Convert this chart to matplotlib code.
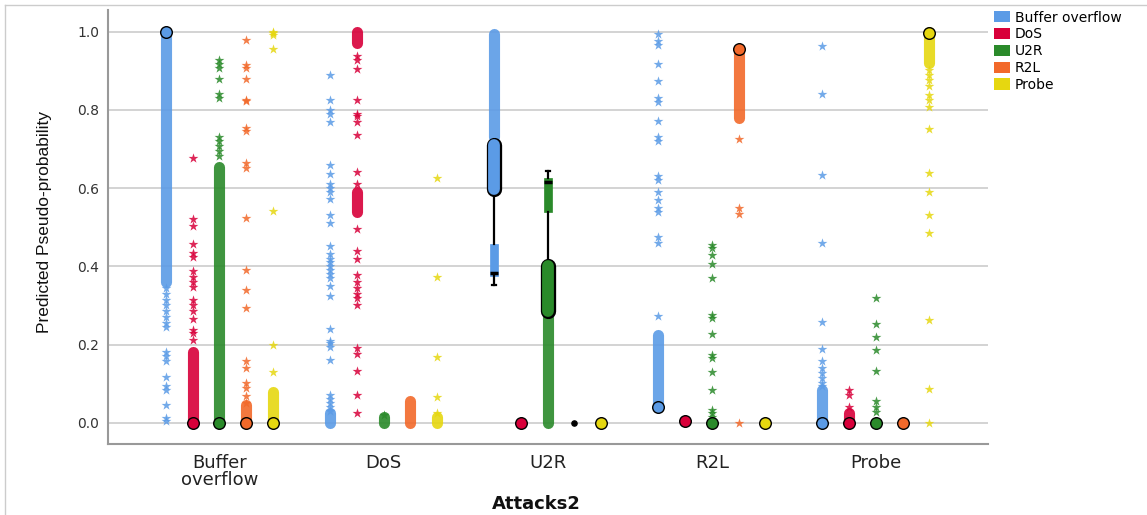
import numpy as np
import matplotlib.pyplot as plt
from matplotlib.patches import Patch
from matplotlib.lines import Line2D

categories = ["Buffer\noverflow", "DoS", "U2R", "R2L", "Probe"]
series = ["Buffer overflow", "DoS", "U2R", "R2L", "Probe"]
colors = ["#5b9be6", "#d8003a", "#2a8a2a", "#f2692a", "#e6d710"]

# single extreme values (stars), one list per series, per category
stars_bo = [
    [0.345, 0.33, 0.315, 0.30, 0.285, 0.27, 0.255, 0.245, 0.182, 0.17, 0.157,
     0.118, 0.093, 0.085, 0.046, 0.012, 0.005],
    [0.677, 0.521, 0.502, 0.457, 0.434, 0.425, 0.387, 0.374, 0.361, 0.348,
     0.315, 0.302, 0.285, 0.265, 0.238, 0.229, 0.212],
    [0.928, 0.917, 0.906, 0.88, 0.841, 0.83, 0.732, 0.72, 0.707, 0.694, 0.682],
    [0.978, 0.916, 0.907, 0.88, 0.826, 0.822, 0.754, 0.745, 0.664, 0.651,
     0.524, 0.39, 0.34, 0.293, 0.157, 0.139, 0.101, 0.089, 0.068, 0.05],
    [1.0, 0.996, 0.992, 0.955, 0.541, 0.2, 0.131],
]
stars_dos = [
    [0.89, 0.826, 0.80, 0.79, 0.77, 0.66, 0.637, 0.61, 0.60, 0.59, 0.573,
     0.532, 0.512, 0.453, 0.432, 0.42, 0.41, 0.40, 0.39, 0.38, 0.37, 0.35,
     0.323, 0.24, 0.21, 0.205, 0.193, 0.161, 0.07, 0.06, 0.05, 0.04, 0.03],
    [0.937, 0.927, 0.905, 0.826, 0.79, 0.785, 0.77, 0.735, 0.642, 0.61,
     0.496, 0.438, 0.42, 0.378, 0.36, 0.345, 0.33, 0.32, 0.30, 0.19, 0.175,
     0.132, 0.07, 0.026],
    [0.02],
    [],
    [0.627, 0.374, 0.167, 0.067, 0.025],
]
stars_u2r = [[], [], [], [], []]
stars_r2l = [
    [0.995, 0.975, 0.965, 0.918, 0.873, 0.83, 0.82, 0.772, 0.73, 0.72, 0.63,
     0.62, 0.59, 0.57, 0.55, 0.54, 0.474, 0.46, 0.274],
    [],
    [0.455, 0.448, 0.43, 0.406, 0.37, 0.276, 0.268, 0.228, 0.174, 0.165,
     0.129, 0.084, 0.033, 0.025, 0.016],
    [0.726, 0.55, 0.535, 0.0],
    [],
]
stars_probe = [
    [0.964, 0.841, 0.633, 0.46, 0.259, 0.188, 0.157, 0.14, 0.127, 0.115,
     0.102, 0.093],
    [0.084, 0.071, 0.04],
    [0.319, 0.253, 0.219, 0.185, 0.133, 0.055, 0.041, 0.028],
    [],
    [0.903, 0.89, 0.877, 0.86, 0.839, 0.826, 0.807, 0.75, 0.638, 0.589,
     0.532, 0.485, 0.262, 0.087, 0.0],
]
stars = [stars_bo, stars_dos, stars_u2r, stars_r2l, stars_probe]

# dense runs of stars (lo, hi)
runs = [
    [(0.36, 1.0), (0.0, 0.18), (0.0, 0.655), (0.0, 0.045), (0.0, 0.08)],
    [(0.0, 0.025), (0.97, 1.0), (0.0, 0.015), (0.0, 0.055), (0.0, 0.015)],
    [(0.73, 0.995), None, (0.0, 0.27), None, None],
    [(0.04, 0.225), None, None, (0.78, 0.955), None],
    [(0.0, 0.085), (0.0, 0.025), None, None, (0.92, 1.0)],
]
runs_red_dos_mid = (0.54, 0.59)

# collapsed boxes (q1 = median = q3), None = no box drawn
flat_box = [
    [1.0, 0.0, 0.0, 0.0, 0.0],
    [None, None, None, None, None],
    [None, 0.0, None, None, 0.0],
    [0.04, 0.005, 0.0, 0.956, 0.0],
    [0.0, 0.0, 0.0, 0.0, 0.996],
]
u2r_orange_median = 0.0

# the two real boxes (U2R category): whislo, q1, med, q3, whishi
u2r_bo_box = [0.353, 0.375, 0.383, 0.458, 0.598]
u2r_u2r_box = [0.40, 0.538, 0.615, 0.626, 0.645]
# runs of outlier circles (lo, hi)
u2r_bo_circles = (0.598, 0.71)
u2r_u2r_circles = (0.285, 0.40)

off = 0.163

def xpos(i, j):
    return i + (j - 2) * off

fig = plt.figure(figsize=(11.47, 5.15), dpi=100)
ax = fig.add_axes([0.094, 0.138, 0.767, 0.843])

ax.set_xlim(-0.68, 4.68)
ax.set_ylim(-0.054, 1.056)
ax.set_yticks(np.arange(0, 1.01, 0.2))
ax.set_yticklabels([f"{v:.1f}" for v in np.arange(0, 1.01, 0.2)])
ax.set_xticks(range(len(categories)))
ax.set_xticklabels(categories, fontsize=13, color="#222222", linespacing=0.95)
ax.tick_params(axis="x", length=0, pad=7)
ax.tick_params(axis="y", length=0, pad=6, labelsize=10, labelcolor="#333333")
for v in np.arange(0, 1.01, 0.2):
    ax.axhline(v, color="#d0d0d0", lw=1.3, zorder=0)
for s in ["top", "right"]:
    ax.spines[s].set_visible(False)
for s in ["left", "bottom"]:
    ax.spines[s].set_color("#999999")
    ax.spines[s].set_linewidth(1.5)

for i in range(5):
    for j in range(5):
        x = xpos(i, j)
        c = colors[j]
        r = runs[i][j]
        if r is not None:
            ax.vlines(x, r[0], r[1], color=c, lw=8, capstyle="round",
                      alpha=0.9, zorder=2)
        vals = stars[i][j]
        if vals:
            ax.scatter([x] * len(vals), vals, marker="*", s=55, color=c,
                       linewidths=0, alpha=0.85, zorder=3)
        fb = flat_box[i][j]
        if fb is not None:
            ax.scatter([x], [fb], marker="o", s=70, facecolor=c,
                       edgecolor="black", linewidths=1, zorder=5)

ax.vlines(xpos(1, 1), *runs_red_dos_mid, color=colors[1], lw=8,
          capstyle="round", alpha=0.9, zorder=2)
ax.scatter([xpos(2, 3)], [u2r_orange_median], marker="o", s=14,
           color="black", zorder=5)

# U2R boxes with their outlier circles
for j, box, circ in [(0, u2r_bo_box, u2r_bo_circles),
                     (2, u2r_u2r_box, u2r_u2r_circles)]:
    x = xpos(2, j)
    c = colors[j]
    st = dict(whislo=box[0], q1=box[1], med=box[2], q3=box[3], whishi=box[4])
    ax.bxp([st], positions=[x], widths=0.05, capwidths=0.025,
           patch_artist=True, showfliers=False,
           boxprops=dict(facecolor=c, edgecolor=c, linewidth=0.5),
           medianprops=dict(color="black", lw=2.5),
           whiskerprops=dict(color="black", lw=1.6),
           capprops=dict(color="black", lw=1.6), manage_ticks=False,
           zorder=3)
    ax.vlines(x, circ[0], circ[1], color="black", lw=11, capstyle="round",
              zorder=4)
    ax.vlines(x, circ[0], circ[1], color=c, lw=8.5, capstyle="round",
              zorder=4)

handles = [Patch(facecolor=c, edgecolor="none") for c in colors]
fig.legend(handles, series, loc="upper left", bbox_to_anchor=(0.862, 0.99),
           frameon=False, fontsize=10, handlelength=1.1, handleheight=0.85,
           handletextpad=0.4, labelspacing=0.2, borderaxespad=0)

fig.text(45 / 1147, 1 - 222 / 515, "Predicted Pseudo-probability",
         rotation=90, ha="center", va="center", fontsize=12.5,
         family=["Liberation Sans", "DejaVu Sans"], color="#111111")
fig.text(536 / 1147, 1 - 504 / 515, "Attacks2", ha="center", va="center",
         fontsize=13, fontweight="bold", color="#111111")

fig.add_artist(Line2D([0.0045, 0.0045], [0, 0.99], transform=fig.transFigure,
                      color="#cccccc", lw=1))
fig.add_artist(Line2D([0.0045, 1], [0.99, 0.99], transform=fig.transFigure,
                      color="#cccccc", lw=1))

fig.savefig("out.png", dpi=100)
